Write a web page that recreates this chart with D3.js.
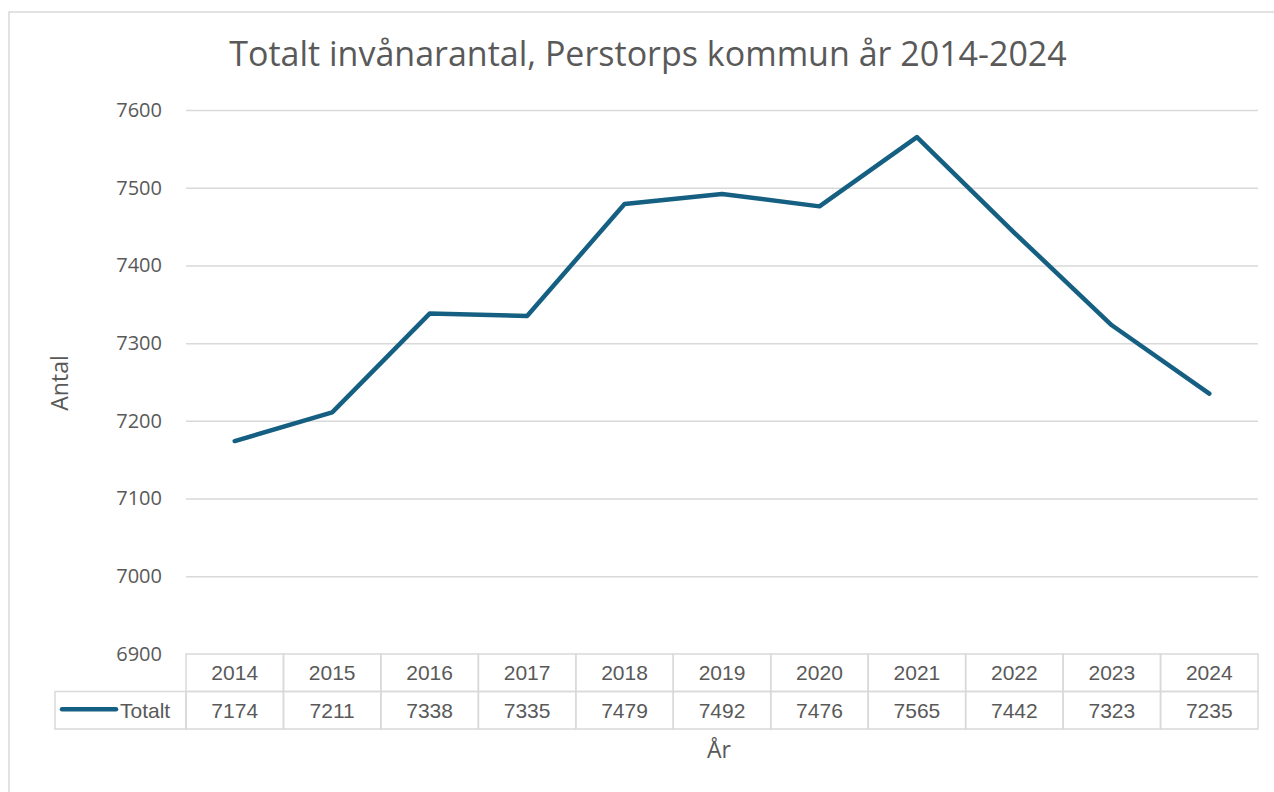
<!DOCTYPE html>
<html>
<head>
<meta charset="utf-8">
<script src="https://cdn.jsdelivr.net/npm/d3@7"></script>
<style>
  body { margin: 0; background: #fff; }
  text { font-family: "Open Sans", "Noto Sans", sans-serif; fill: #595959; }
  .table text { font-family: "Liberation Sans", Arial, sans-serif; }
</style>
</head>
<body>
<div class="chart"></div>
<script>
// Data
const years = ["2014", "2015", "2016", "2017", "2018", "2019", "2020", "2021", "2022", "2023", "2024"];
const totalt = [7174, 7211, 7338, 7335, 7479, 7492, 7476, 7565, 7442, 7323, 7235];
const yTicks = [6900, 7000, 7100, 7200, 7300, 7400, 7500, 7600];
const seriesName = "Totalt";

// Sizes
const w = 1274;
const h = 792;
const plot = { left: 186, right: 1258, top: 110, bottom: 654 };
const rowH = 37.5;
const lineColor = "#156082";
const gridColor = "#d9d9d9";

const svg = d3
  .select(".chart")
  .append("svg")
  .attr("width", w)
  .attr("height", h);

// Chart area border
svg
  .append("rect")
  .attr("x", 9)
  .attr("y", 12)
  .attr("width", w + 10)
  .attr("height", h + 10)
  .attr("fill", "#fff")
  .attr("stroke", gridColor)
  .attr("stroke-width", 1.5);

// Scales
const xScale = d3
  .scaleBand()
  .domain(years)
  .range([plot.left, plot.right]);

const yScale = d3
  .scaleLinear()
  .domain([6900, 7600])
  .range([plot.bottom, plot.top]);

// Gridlines + y labels
const yAxis = svg
  .append("g")
  .attr("transform", `translate(${plot.left}, 0)`)
  .call(
    d3.axisLeft(yScale)
      .tickValues(yTicks)
      .tickSize(-(plot.right - plot.left))
      .tickPadding(24)
      .tickFormat(d3.format("d"))
  );
yAxis.select(".domain").remove();
yAxis.selectAll(".tick line")
  .attr("stroke", gridColor)
  .attr("stroke-width", 1.5)
  .filter((d) => d === 6900)
  .remove();
yAxis.selectAll(".tick text")
  .attr("font-size", 20)
  .style("font-family", "'Open Sans', sans-serif")
  .attr("fill", "#595959");

// Data table
const table = svg.append("g").attr("class", "table");
const tTop = plot.bottom;

// header row
table
  .selectAll("rect.head")
  .data(years)
  .enter()
  .append("rect")
  .attr("class", "head")
  .attr("x", (d) => xScale(d))
  .attr("y", tTop)
  .attr("width", xScale.bandwidth())
  .attr("height", rowH)
  .attr("fill", "none")
  .attr("stroke", gridColor)
  .attr("stroke-width", 1.5);

table
  .selectAll("text.head")
  .data(years)
  .enter()
  .append("text")
  .attr("class", "head")
  .attr("x", (d) => xScale(d) + xScale.bandwidth() / 2)
  .attr("y", tTop + rowH / 2)
  .attr("dy", "0.35em")
  .attr("text-anchor", "middle")
  .attr("font-size", 21)
  .text((d) => d);

// value row
table
  .selectAll("rect.val")
  .data(years)
  .enter()
  .append("rect")
  .attr("class", "val")
  .attr("x", (d) => xScale(d))
  .attr("y", tTop + rowH)
  .attr("width", xScale.bandwidth())
  .attr("height", rowH)
  .attr("fill", "none")
  .attr("stroke", gridColor)
  .attr("stroke-width", 1.5);

table
  .selectAll("text.val")
  .data(totalt)
  .enter()
  .append("text")
  .attr("class", "val")
  .attr("x", (d, i) => xScale(years[i]) + xScale.bandwidth() / 2)
  .attr("y", tTop + rowH * 1.5)
  .attr("dy", "0.35em")
  .attr("text-anchor", "middle")
  .attr("font-size", 21)
  .text((d) => d);

// legend cell
const legX = 55;
table
  .append("rect")
  .attr("x", legX)
  .attr("y", tTop + rowH)
  .attr("width", plot.left - legX)
  .attr("height", rowH)
  .attr("fill", "none")
  .attr("stroke", gridColor)
  .attr("stroke-width", 1.5);

table
  .append("line")
  .attr("x1", legX + 7)
  .attr("x2", legX + 61)
  .attr("y1", tTop + rowH * 1.5 - 1)
  .attr("y2", tTop + rowH * 1.5 - 1)
  .attr("stroke", lineColor)
  .attr("stroke-width", 4.5)
  .attr("stroke-linecap", "round");

table
  .append("text")
  .attr("x", legX + 65)
  .attr("y", tTop + rowH * 1.5)
  .attr("dy", "0.35em")
  .attr("font-size", 21)
  .text(seriesName);

// Line
const line = d3
  .line()
  .x((d, i) => xScale(years[i]) + xScale.bandwidth() / 2)
  .y((d) => yScale(d));

svg
  .append("path")
  .datum(totalt)
  .attr("d", line)
  .attr("fill", "none")
  .attr("stroke", lineColor)
  .attr("stroke-width", 4.5)
  .attr("stroke-linejoin", "round")
  .attr("stroke-linecap", "round");

// Title
svg
  .append("text")
  .text("Totalt invånarantal, Perstorps kommun år 2014-2024")
  .attr("x", 648)
  .attr("y", 66)
  .attr("text-anchor", "middle")
  .attr("font-size", 34);

// Axis titles
svg
  .append("text")
  .text("Antal")
  .attr("text-anchor", "middle")
  .attr("transform", "translate(68, 383) rotate(-90)")
  .attr("font-size", 23);

svg
  .append("text")
  .text("År")
  .attr("text-anchor", "middle")
  .attr("x", 719)
  .attr("y", 758)
  .attr("font-size", 23);
</script>
</body>
</html>
